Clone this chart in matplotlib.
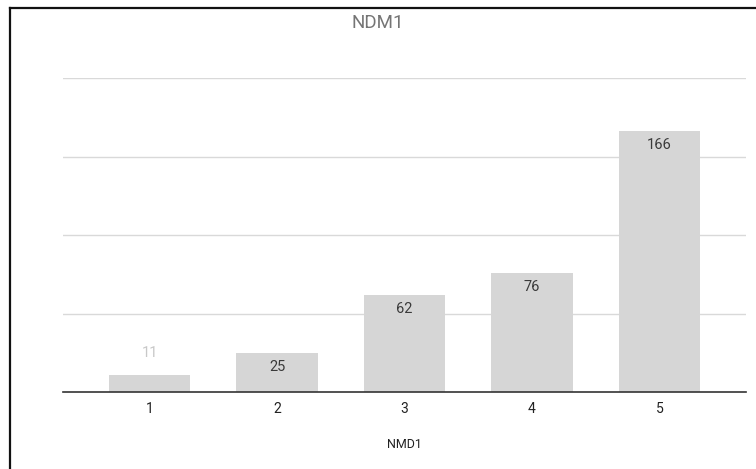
import matplotlib.pyplot as plt
from matplotlib.lines import Line2D

categories = ['1', '2', '3', '4', '5']
values = [11, 25, 62, 76, 166]


def main():
    plt.rcParams['font.family'] = ['Roboto', 'DejaVu Sans']
    fig = plt.figure(figsize=(7.56, 4.69), dpi=100)
    ax = fig.add_axes([0.0833, 0.164, 0.9037, 0.6697])

    x = list(range(1, len(values) + 1))
    ax.bar(x, values, width=0.64, color='#d6d6d6', zorder=2)

    ax.set_ylim(0, 200)
    ax.set_xlim(0.32, 5.68)
    ax.set_yticks([50, 100, 150, 200])
    ax.yaxis.grid(True, color='#d9d9d9', linewidth=1)
    ax.tick_params(axis='y', length=0, labelleft=False)
    ax.set_xticks(x)
    ax.set_xticklabels(categories, fontsize=10, color='#222222')
    ax.tick_params(axis='x', length=0, pad=7)

    for s in ['top', 'right', 'left']:
        ax.spines[s].set_visible(False)
    ax.spines['bottom'].set_color('#333333')
    ax.spines['bottom'].set_linewidth(1.2)
    ax.spines['bottom'].set_zorder(3)

    # labels sit inside the bar, except when the bar is too short
    for xi, v in zip(x, values):
        if v < 20:
            ax.annotate(str(v), (xi, v), xytext=(0, 11), textcoords='offset points',
                        ha='center', va='bottom', fontsize=10.5, color='#c8c8c8')
        else:
            ax.annotate(str(v), (xi, v), xytext=(0, -5), textcoords='offset points',
                        ha='center', va='top', fontsize=10.5, color='#3a3a3a')

    ax.set_xlabel('NMD1', fontsize=9, color='#222222', labelpad=16)
    fig.text(0.5, 0.951, 'NDM1', ha='center', va='center', fontsize=13.5,
             color='#757575')

    # frame along the left and top edges
    fig.add_artist(Line2D([10 / 756, 10 / 756], [0, 1 - 8 / 469], color='#111111',
                          linewidth=1.6, transform=fig.transFigure))
    fig.add_artist(Line2D([10 / 756, 1], [1 - 8 / 469, 1 - 8 / 469], color='#111111',
                          linewidth=1.6, transform=fig.transFigure))

    fig.savefig('out.png', dpi=100, facecolor='white')


if __name__ == "__main__":
    main()
